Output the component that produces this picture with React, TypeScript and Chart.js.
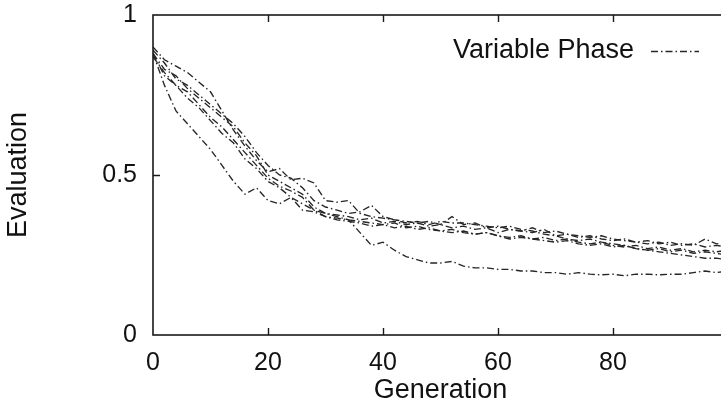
import React, { useEffect, useRef } from 'react';
import { Chart, registerables } from 'chart.js';

Chart.register(...registerables);

const generations = [
  0, 2, 4, 6, 8, 10, 12, 14, 16, 18,
  20, 22, 24, 26, 28, 30, 32, 34, 36, 38,
  40, 42, 44, 46, 48, 50, 52, 54, 56, 58,
  60, 62, 64, 66, 68, 70, 72, 74, 76, 78,
  80, 82, 84, 86, 88, 90, 92, 94, 96, 98,
  100,
];

const runA = [
  0.90, 0.86, 0.84, 0.82, 0.79, 0.76, 0.70, 0.64, 0.59, 0.545,
  0.51, 0.52, 0.485, 0.49, 0.475, 0.42, 0.415, 0.42, 0.38, 0.37,
  0.365, 0.36, 0.355, 0.35, 0.355, 0.345, 0.37, 0.345, 0.35, 0.335,
  0.34, 0.33, 0.325, 0.335, 0.32, 0.325, 0.315, 0.31, 0.305, 0.31,
  0.30, 0.295, 0.29, 0.295, 0.285, 0.29, 0.28, 0.285, 0.275, 0.28,
  0.275,
];
const runB = [
  0.89, 0.85, 0.80, 0.78, 0.75, 0.72, 0.69, 0.66, 0.62, 0.57,
  0.53, 0.50, 0.49, 0.46, 0.42, 0.40, 0.39, 0.38, 0.385, 0.405,
  0.37, 0.36, 0.35, 0.355, 0.345, 0.355, 0.35, 0.35, 0.345, 0.34,
  0.335, 0.34, 0.33, 0.325, 0.315, 0.31, 0.30, 0.295, 0.30, 0.29,
  0.285, 0.28, 0.27, 0.265, 0.26, 0.255, 0.25, 0.245, 0.24, 0.24,
  0.235,
];
const runC = [
  0.88, 0.83, 0.81, 0.77, 0.74, 0.71, 0.68, 0.65, 0.60, 0.56,
  0.50, 0.48, 0.46, 0.44, 0.40, 0.38, 0.375, 0.37, 0.36, 0.365,
  0.35, 0.355, 0.345, 0.35, 0.34, 0.345, 0.335, 0.34, 0.33, 0.335,
  0.32, 0.33, 0.325, 0.32, 0.33, 0.31, 0.315, 0.305, 0.31, 0.30,
  0.295, 0.30, 0.29, 0.285, 0.29, 0.28, 0.285, 0.28, 0.30, 0.285,
  0.29,
];
const runD = [
  0.87, 0.82, 0.78, 0.76, 0.72, 0.68, 0.65, 0.61, 0.57, 0.53,
  0.49, 0.465, 0.45, 0.43, 0.39, 0.37, 0.36, 0.355, 0.35, 0.34,
  0.345, 0.335, 0.34, 0.33, 0.335, 0.325, 0.32, 0.325, 0.315, 0.32,
  0.31, 0.305, 0.31, 0.30, 0.305, 0.295, 0.30, 0.29, 0.285, 0.29,
  0.28, 0.275, 0.28, 0.27, 0.275, 0.265, 0.27, 0.26, 0.265, 0.26,
  0.265,
];
const runE = [
  0.88, 0.81, 0.78, 0.74, 0.71, 0.67, 0.63, 0.60, 0.55, 0.52,
  0.48, 0.46, 0.43, 0.41, 0.39, 0.38, 0.37, 0.36, 0.32, 0.28,
  0.29, 0.265, 0.245, 0.235, 0.225, 0.225, 0.23, 0.215, 0.21, 0.21,
  0.205, 0.205, 0.20, 0.20, 0.195, 0.195, 0.19, 0.195, 0.19, 0.188,
  0.19, 0.185, 0.19, 0.19, 0.188, 0.19, 0.19, 0.195, 0.20, 0.195,
  0.20,
];
const runF = [
  0.88, 0.78, 0.70, 0.66, 0.62, 0.58, 0.53, 0.48, 0.44, 0.46,
  0.42, 0.41, 0.43, 0.39, 0.385, 0.37, 0.365, 0.36, 0.355, 0.35,
  0.345, 0.35, 0.335, 0.34, 0.33, 0.325, 0.33, 0.32, 0.315, 0.32,
  0.31, 0.30, 0.305, 0.30, 0.295, 0.29, 0.295, 0.285, 0.28, 0.285,
  0.275, 0.28, 0.27, 0.265, 0.27, 0.26, 0.265, 0.255, 0.26, 0.255,
  0.25,
];

const runs = [runA, runB, runC, runD, runE, runF];
const seriesLabel = 'Variable Phase';
const xTitle = 'Generation';
const yTitle = 'Evaluation';
const xTickStep = 20;
const yTickStep = 0.5;

const LINE_COLOR = '#262626';
const LINE_DASH = [7, 3, 1.5, 3];
const FONT = 'Liberation Sans, Arial, sans-serif';

export default function App() {
  const ref = useRef<HTMLCanvasElement>(null);

  useEffect(() => {
    if (!ref.current) return;

    const framePlugin = {
      id: 'frameAndLegend',
      afterDatasetsDraw(chart: any) {
        const { ctx, chartArea, scales } = chart;
        const { left, right, top, bottom } = chartArea;
        ctx.save();
        ctx.setLineDash([]);
        ctx.strokeStyle = '#1a1a1a';
        ctx.lineWidth = 1.6;
        ctx.strokeRect(left, top, right - left, bottom - top);
        const tl = 7;
        ctx.lineWidth = 1.4;
        ctx.beginPath();
        scales.x.ticks.forEach((t: any) => {
          if (t.value <= scales.x.min || t.value >= scales.x.max) return;
          const px = Math.round(scales.x.getPixelForValue(t.value)) + 0.5;
          ctx.moveTo(px, bottom);
          ctx.lineTo(px, bottom - tl);
          ctx.moveTo(px, top);
          ctx.lineTo(px, top + tl);
        });
        scales.y.ticks.forEach((t: any) => {
          if (t.value <= scales.y.min || t.value >= scales.y.max) return;
          const py = Math.round(scales.y.getPixelForValue(t.value)) + 0.5;
          ctx.moveTo(left, py);
          ctx.lineTo(left + tl, py);
          ctx.moveTo(right, py);
          ctx.lineTo(right - tl, py);
        });
        ctx.stroke();

        // legend entry (text left, line sample right)
        const ly = top + 36;
        ctx.font = `27px ${FONT}`;
        ctx.fillStyle = '#111';
        ctx.textAlign = 'right';
        ctx.textBaseline = 'middle';
        ctx.fillText(seriesLabel, right - 94, ly);
        ctx.strokeStyle = LINE_COLOR;
        ctx.lineWidth = 1.3;
        ctx.setLineDash(LINE_DASH);
        ctx.beginPath();
        ctx.moveTo(right - 77, ly + 0.5);
        ctx.lineTo(right - 29, ly + 0.5);
        ctx.stroke();
        ctx.restore();
      },
    };

    const chart = new Chart(ref.current, {
      type: 'line',
      data: {
        datasets: runs.map((r, i) => ({
          label: i === 0 ? seriesLabel : `${seriesLabel} ${i + 1}`,
          data: r.map((v, j) => ({ x: generations[j], y: v })),
          borderColor: LINE_COLOR,
          borderWidth: 1.35,
          borderDash: LINE_DASH,
          pointRadius: 0,
          tension: 0,
          fill: false,
        })),
      },
      options: {
        responsive: false,
        devicePixelRatio: 1,
        animation: false,
        layout: { padding: { top: 15, right: 32, left: 0, bottom: 0 } },
        plugins: { legend: { display: false }, tooltip: { enabled: false } },
        scales: {
          x: {
            type: 'linear',
            min: 0,
            max: 100,
            grid: { display: false, drawTicks: false },
            border: { display: false },
            ticks: {
              stepSize: xTickStep,
              color: '#111',
              font: { size: 25, family: FONT },
              padding: 13,
              maxRotation: 0,
              autoSkip: false,
              callback: (v: any) => (v === 100 ? '' : String(v)),
            },
            title: {
              display: true,
              text: xTitle,
              color: '#111',
              font: { size: 27, family: FONT },
              padding: { top: 0, bottom: 1 },
            },
            afterFit: (s: any) => {
              s.height = 73;
              s.paddingLeft = 0;
              s.paddingRight = 0;
            },
          },
          y: {
            type: 'linear',
            min: 0,
            max: 1,
            grid: { display: false, drawTicks: false },
            border: { display: false },
            ticks: {
              stepSize: yTickStep,
              color: '#111',
              font: { size: 25, family: FONT },
              padding: 16,
              callback: (v: any) => String(v),
            },
            title: {
              display: true,
              text: yTitle,
              color: '#111',
              font: { size: 27, family: FONT },
              padding: { top: 2, bottom: 0 },
            },
            afterFit: (s: any) => {
              s.width = 153;
              s.paddingTop = 0;
              s.paddingBottom = 0;
            },
          },
        },
      },
      plugins: [framePlugin],
    } as any);

    return () => chart.destroy();
  }, []);

  return (
    <div
      style={{
        position: 'fixed',
        left: 0,
        top: 0,
        width: 721,
        height: 408,
        overflow: 'hidden',
        background: '#fff',
      }}
    >
      <canvas ref={ref} width={760} height={408} style={{ display: 'block', width: 760, height: 408 }} />
    </div>
  );
}
